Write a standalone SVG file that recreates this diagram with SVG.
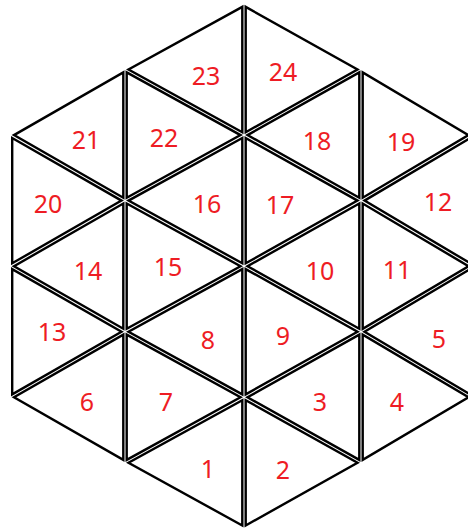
<svg xmlns="http://www.w3.org/2000/svg" width="468" height="528" viewBox="0 0 468 528">
<style>
.t{fill:none;stroke:#000;stroke-width:2.4;stroke-linejoin:miter}
.l{font-family:"Noto Sans","Open Sans","Liberation Sans",sans-serif;font-size:25px;fill:#ee1c24;text-anchor:middle}
</style>
<rect width="468" height="528" fill="#fff"/>
<g id="tri-23"><polygon class="t" points="242.3,6.9 242.3,132.2 128.5,69.5"/><text class="l" x="206" y="85">23</text></g>
<g id="tri-24"><polygon class="t" points="245.7,6.9 245.7,132.2 357.5,69.5"/><text class="l" x="283" y="81">24</text></g>
<g id="tri-21"><polygon class="t" points="123.3,72.4 123.3,197.7 14,135.1"/><text class="l" x="86" y="149">21</text></g>
<g id="tri-22"><polygon class="t" points="126.7,72.4 126.7,197.7 240.5,135.1"/><text class="l" x="164" y="147">22</text></g>
<g id="tri-18"><polygon class="t" points="359.3,72.4 359.3,197.7 247.5,135.1"/><text class="l" x="317" y="150">18</text></g>
<g id="tri-19"><polygon class="t" points="362.7,72.4 362.7,197.7 468.5,135.1"/><text class="l" x="401" y="151">19</text></g>
<g id="tri-20"><polygon class="t" points="12.2,138 12.2,263.3 121.5,200.6"/><text class="l" x="48" y="213">20</text></g>
<g id="tri-16"><polygon class="t" points="242.3,138 242.3,263.3 128.5,200.6"/><text class="l" x="207" y="213">16</text></g>
<g id="tri-17"><polygon class="t" points="245.7,138 245.7,263.3 357.5,200.6"/><text class="l" x="280" y="214">17</text></g>
<g id="tri-12"><polygon class="t" points="470.3,138 470.3,263.3 364.5,200.6"/><text class="l" x="438" y="211">12</text></g>
<g id="tri-14"><polygon class="t" points="123.3,203.5 123.3,328.8 14,266.2"/><text class="l" x="88" y="280">14</text></g>
<g id="tri-15"><polygon class="t" points="126.7,203.5 126.7,328.8 240.5,266.2"/><text class="l" x="168" y="276">15</text></g>
<g id="tri-10"><polygon class="t" points="359.3,203.5 359.3,328.8 247.5,266.2"/><text class="l" x="320" y="280">10</text></g>
<g id="tri-11"><polygon class="t" points="362.7,203.5 362.7,328.8 468.5,266.2"/><text class="l" x="397" y="279">11</text></g>
<g id="tri-13"><polygon class="t" points="12.2,269.1 12.2,394.4 121.5,331.7"/><text class="l" x="52" y="341">13</text></g>
<g id="tri-8"><polygon class="t" points="242.3,269.1 242.3,394.4 128.5,331.7"/><text class="l" x="208" y="349">8</text></g>
<g id="tri-9"><polygon class="t" points="245.7,269.1 245.7,394.4 357.5,331.7"/><text class="l" x="283" y="345">9</text></g>
<g id="tri-5"><polygon class="t" points="470.3,269.1 470.3,394.4 364.5,331.7"/><text class="l" x="439" y="348">5</text></g>
<g id="tri-6"><polygon class="t" points="123.3,334.6 123.3,459.9 14,397.3"/><text class="l" x="87" y="411">6</text></g>
<g id="tri-7"><polygon class="t" points="126.7,334.6 126.7,459.9 240.5,397.3"/><text class="l" x="166" y="411">7</text></g>
<g id="tri-3"><polygon class="t" points="359.3,334.6 359.3,459.9 247.5,397.3"/><text class="l" x="320" y="411">3</text></g>
<g id="tri-4"><polygon class="t" points="362.7,334.6 362.7,459.9 468.5,397.3"/><text class="l" x="397" y="411">4</text></g>
<g id="tri-1"><polygon class="t" points="242.3,400.2 242.3,525.5 128.5,462.8"/><text class="l" x="208" y="478">1</text></g>
<g id="tri-2"><polygon class="t" points="245.7,400.2 245.7,525.5 357.5,462.8"/><text class="l" x="283" y="479">2</text></g>
</svg>
